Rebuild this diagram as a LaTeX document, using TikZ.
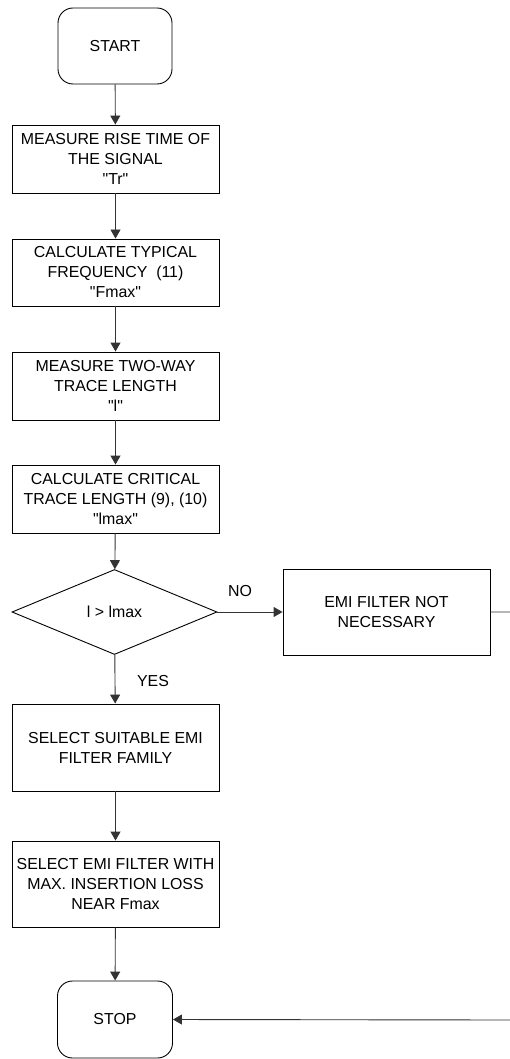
\documentclass[tikz,border=0pt]{standalone}
\usepackage{fontspec}
\setmainfont{Liberation Sans}[Ligatures=TeXOff]
\usetikzlibrary{shapes.geometric,arrows.meta}
\begin{document}
\begin{tikzpicture}[x=1pt,y=1pt,
  font=\fontsize{15.9}{20}\selectfont,
  proc/.style={draw,line width=0.9pt,minimum width=207pt,align=center,inner sep=0pt},
  term/.style={draw,line width=0.9pt,rounded corners=15pt,minimum width=114pt,minimum height=76pt,inner sep=0pt},
  dec/.style={draw,line width=0.9pt,diamond,aspect=2.41,minimum width=205pt,minimum height=85pt,inner sep=0pt},
  flow/.style={line width=0.9pt,draw=black!80,-{Triangle[length=9pt,width=10pt]}},
  lbl/.style={inner sep=0pt}]
\clip (0,0) rectangle (510,-1059);
\node[term] (start) at (115,-46) {START};
\node[proc,minimum height=68pt] (b1) at (115.5,-159) {MEASURE RISE TIME OF\\THE SIGNAL\\"Tr"};
\node[proc,minimum height=67pt] (b2) at (115.5,-272.5) {CALCULATE TYPICAL\\FREQUENCY~~(11)\\"Fmax"};
\node[proc,minimum height=68pt] (b3) at (115.5,-386) {MEASURE TWO-WAY\\TRACE LENGTH\\"l"};
\node[proc,minimum height=68pt] (b4) at (115.5,-499) {CALCULATE CRITICAL\\TRACE LENGTH (9), (10)\\"lmax"};
\node[dec] (d) at (114.5,-612) {l > lmax};
\node[proc,minimum height=86pt] (emi) at (386.5,-612) {EMI FILTER NOT\\NECESSARY};
\node[proc,minimum height=87pt] (b5) at (115.5,-747.5) {SELECT SUITABLE EMI\\FILTER FAMILY};
\node[proc,minimum height=86pt] (b6) at (115.5,-884) {SELECT EMI FILTER WITH\\MAX. INSERTION LOSS\\NEAR Fmax};
\node[term,minimum height=77pt,minimum width=115pt] (stop) at (115,-1019.5) {STOP};
\node[lbl] (no) at (240,-591) {NO};
\node[lbl] (yes) at (153,-681.5) {YES};
\coordinate (r1) at (513,-612);
\coordinate (r2) at (513,-1020);
\draw[flow] (start) -- (b1);
\draw[flow] (b1) -- (b2);
\draw[flow] (b2) -- (b3);
\draw[flow] (b3) -- (b4);
\draw[flow] (b4) -- (d);
\draw[flow] (d) -- (emi);
\draw[flow] (d) -- (b5);
\draw[flow] (b5) -- (b6);
\draw[flow] (b6) -- (stop);
\draw[flow] (emi.east) -- (r1) -- (r2) -- (stop.east);
\end{tikzpicture}
\end{document}
